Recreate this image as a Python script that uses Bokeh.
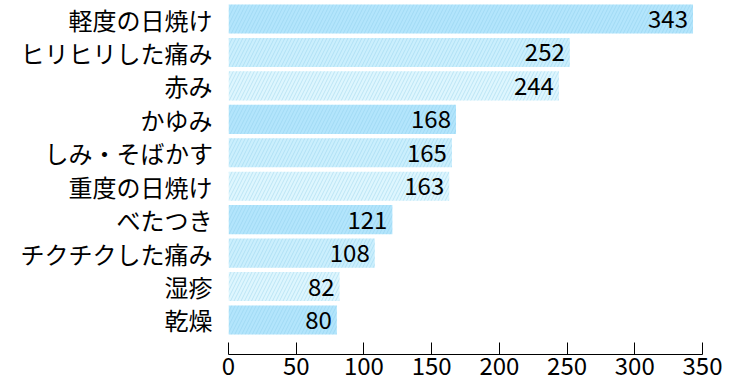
from bokeh.plotting import figure
from bokeh.models import ColumnDataSource, Range1d, FixedTicker, LabelSet
from bokeh.core.properties import value
from bokeh.embed import file_html
from bokeh.resources import INLINE

categories = ["軽度の日焼け", "ヒリヒリした痛み", "赤み", "かゆみ", "しみ・そばかす",
              "重度の日焼け", "べたつき", "チクチクした痛み", "湿疹", "乾燥"]
values = [343, 252, 244, 168, 165, 163, 121, 108, 82, 80]
x_ticks = [0, 50, 100, 150, 200, 250, 300, 350]

shades = ["#b3e5fc", "#cbeffd", "#def6fe"]
n = len(categories)
ypos = [n - 1 - i for i in range(n)]
src = ColumnDataSource(dict(
    y=ypos, v=values, label=[str(v) for v in values],
    color=[shades[i % 3] for i in range(n)],
))

FONT = "Noto Sans CJK JP"
FS = "24px"

p = figure(width=742, height=384, output_backend="svg", toolbar_location=None,
           x_range=Range1d(0, 350), y_range=Range1d(-1.033, 9.465),
           min_border_left=228, min_border_right=40, min_border_top=3, min_border_bottom=30)
p.outline_line_color = None
p.xgrid.visible = False
p.ygrid.visible = False

p.hbar(y="y", right="v", left=0, height=0.87, source=src, fill_color="color",
       line_color=None, hatch_pattern="/", hatch_color="#84c9e8", hatch_alpha=0.38,
       hatch_scale=7, hatch_weight=1)

labels = LabelSet(x="v", y="y", text="label", source=src, x_offset=-5, y_offset=0,
                  text_align="right", text_baseline="middle", text_font=value(FONT),
                  text_font_size=value(FS), text_color="#000000")
p.add_layout(labels)

xa = p.xaxis[0]
xa.ticker = FixedTicker(ticks=x_ticks)
xa.major_tick_in = 12
xa.major_tick_out = 0
xa.minor_tick_in = 0
xa.minor_tick_out = 0
xa.axis_line_color = "#000000"
xa.major_tick_line_color = "#000000"
xa.major_label_text_font = FONT
xa.major_label_text_font_size = FS
xa.major_label_text_color = "#000000"
xa.major_label_standoff = 2

ya = p.yaxis[0]
ya.ticker = FixedTicker(ticks=ypos)
ya.major_label_overrides = {y: c for y, c in zip(ypos, categories)}
ya.axis_line_color = None
ya.major_tick_line_color = None
ya.minor_tick_line_color = None
ya.major_tick_out = 0
ya.major_tick_in = 0
ya.major_label_standoff = 16
ya.major_label_text_font = FONT
ya.major_label_text_font_size = FS
ya.major_label_text_color = "#000000"

open("out.html", "w").write(file_html(p, INLINE))
